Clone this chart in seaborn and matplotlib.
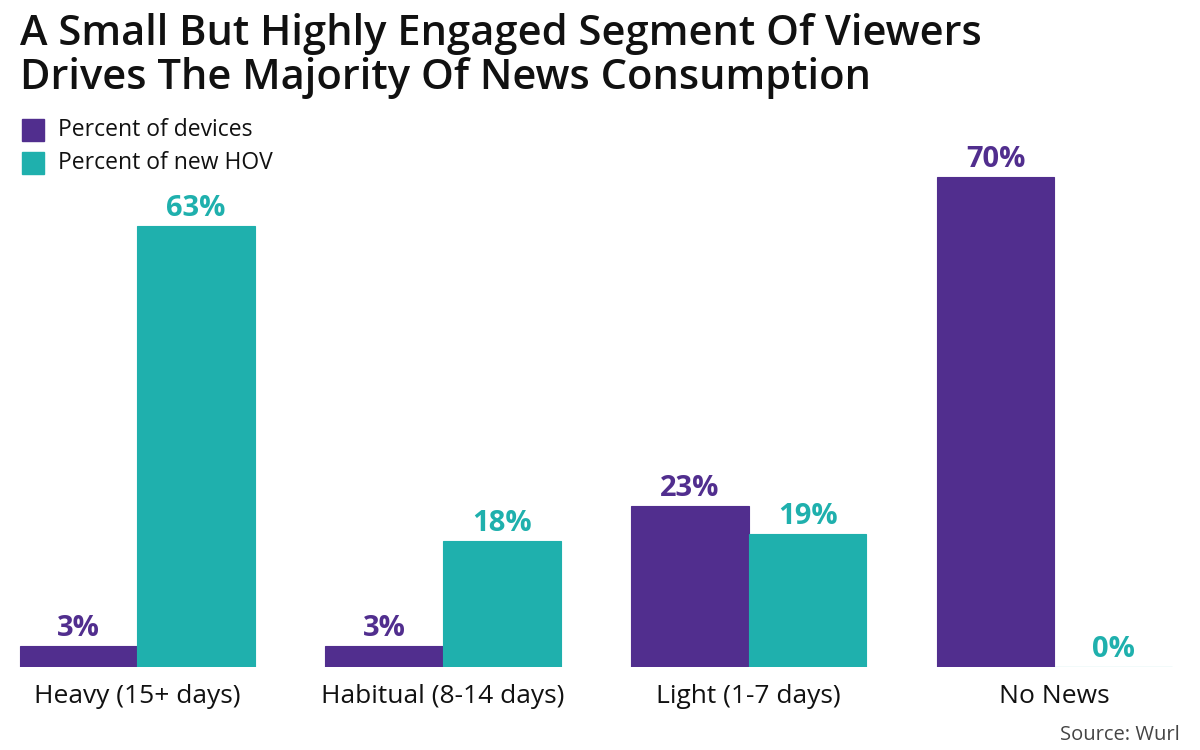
import pandas as pd
import matplotlib.pyplot as plt
import seaborn as sns

categories = ['Heavy (15+ days)', 'Habitual (8-14 days)', 'Light (1-7 days)', 'No News']
series = ['Percent of devices', 'Percent of new HOV']
devices = [3, 3, 23, 70]
new_hov = [63, 18, 19, 0]

purple = '#512E8E'
teal = '#1FB0AD'

df = pd.DataFrame({
    'category': categories * 2,
    'series': [series[0]] * 4 + [series[1]] * 4,
    'value': devices + new_hov,
})

sns.set_theme(style='white')
plt.rcParams['font.family'] = ['Open Sans', 'DejaVu Sans']

fig = plt.figure(figsize=(12, 7.5), dpi=100)
ax = fig.add_axes([15 / 1200, 83 / 750, 1170 / 1200, 517 / 750])

sns.barplot(data=df, x='category', y='value', hue='series', palette=[purple, teal],
            width=0.77, saturation=1, ax=ax, legend=False)

for cont, col in zip(ax.containers, [purple, teal]):
    for bar in cont:
        bar.set_edgecolor(col)
        bar.set_linewidth(0.8)
    ax.bar_label(cont, fmt='%d%%', color=col, fontsize=21, fontweight='bold', padding=2)

ax.set_xlim(-0.4, 3.427)
ax.set_ylim(0, 73.86)
ax.set_xlabel('')
ax.set_ylabel('')
ax.set_yticks([])
ax.tick_params(axis='x', length=0, labelsize=19, pad=12, colors='#111111')
sns.despine(ax=ax, left=True, bottom=True)

fig.text(20 / 1200, 1 - 34 / 750, 'A Small But Highly Engaged Segment Of Viewers',
         fontsize=30, fontweight='semibold', va='center', ha='left', color='#111111')
fig.text(20 / 1200, 1 - 78 / 750, 'Drives The Majority Of News Consumption',
         fontsize=30, fontweight='semibold', va='center', ha='left', color='#111111')

# legend
for i, (name, col) in enumerate(zip(series, [purple, teal])):
    y = 1 - (130 + i * 33) / 750
    fig.patches.append(plt.Rectangle((22 / 1200, y - 11 / 750), 22 / 1200, 22 / 750,
                                     transform=fig.transFigure, color=col))
    fig.text(58 / 1200, y, name, fontsize=16.5, va='center', ha='left', color='#111111')

fig.text(1180 / 1200, 1 - 735 / 750, 'Source: Wurl', fontsize=14.5, ha='right', va='center', color='#444444')

fig.savefig('out.png', dpi=100)
